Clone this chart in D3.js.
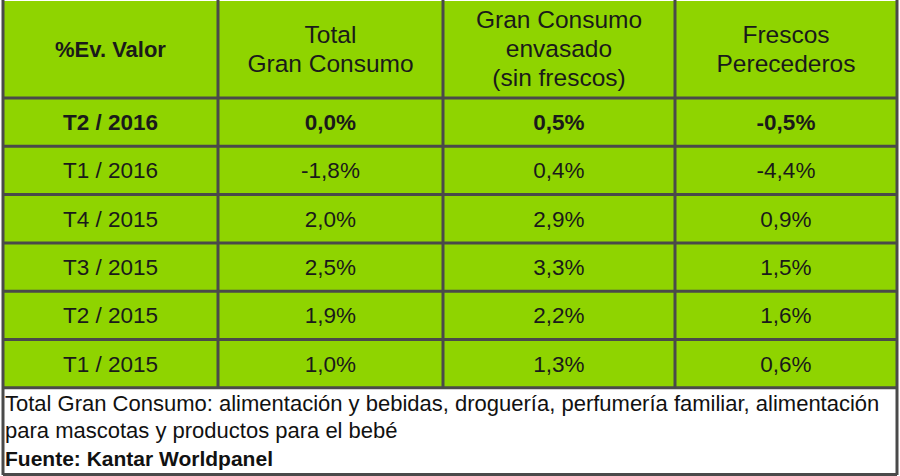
<!DOCTYPE html>
<html><head><meta charset="utf-8">
<script src="https://cdn.jsdelivr.net/npm/d3@7"></script>
<style>body{margin:0;background:#fff}</style>
</head><body><svg id="c" width="900" height="476"></svg>
<script>
const headers = [["%Ev. Valor"], ["Total", "Gran Consumo"], ["Gran Consumo", "envasado", "(sin frescos)"], ["Frescos", "Perecederos"]];
const periods = ["T2 / 2016", "T1 / 2016", "T4 / 2015", "T3 / 2015", "T2 / 2015", "T1 / 2015"];
const totalGC = ["0,0%", "-1,8%", "2,0%", "2,5%", "1,9%", "1,0%"];
const envasado = ["0,5%", "0,4%", "2,9%", "3,3%", "2,2%", "1,3%"];
const frescos = ["-0,5%", "-4,4%", "0,9%", "1,5%", "1,6%", "0,6%"];
const notes = ["Total Gran Consumo: alimentación y bebidas, droguería, perfumería familiar, alimentación", "para mascotas y productos para el bebé"];
const source = "Fuente: Kantar Worldpanel";

const svg = d3.select("#c");
const font = "Arial, 'Liberation Sans', sans-serif";
const green = "#8fd400", line = "#4a4a4a";
const colEdges = [3, 218, 443, 675, 897];
const headH = 98, rowH = 48.3, tableB = headH + rowH * periods.length;
const y = d3.scaleLinear().domain([0, periods.length]).range([headH, tableB]);

svg.append("rect").attr("x", 3).attr("y", 1).attr("width", 894).attr("height", tableB - 1).attr("fill", green);

// header
headers.forEach((h, i) => {
  const cx = (colEdges[i] + colEdges[i + 1]) / 2;
  const t = svg.append("text").attr("x", cx).attr("text-anchor", "middle")
    .attr("font-family", font).attr("font-size", i === 0 ? 22 : 24.5).attr("fill", "#1a1a1a")
    .attr("font-weight", i === 0 ? "bold" : "normal");
  const lh = 29, y0 = headH / 2 - (h.length - 1) * lh / 2 + 8;
  h.forEach((s, k) => t.append("tspan").attr("x", cx).attr("y", y0 + k * lh).text(s));
});

// rows
const cols = [periods, totalGC, envasado, frescos];
periods.forEach((p, r) => {
  cols.forEach((col, i) => {
    svg.append("text").attr("x", (colEdges[i] + colEdges[i + 1]) / 2).attr("y", y(r + 0.5) + 8)
      .attr("text-anchor", "middle").attr("font-family", font).attr("font-size", 22.5)
      .attr("fill", "#1a1a1a").attr("font-weight", r === 0 ? "bold" : "normal").text(col[r]);
  });
});

// grid lines
d3.range(periods.length + 1).forEach(r => {
  svg.append("line").attr("x1", 3).attr("x2", 897).attr("y1", y(r)).attr("y2", y(r))
    .attr("stroke", line).attr("stroke-width", 3);
});
colEdges.forEach((x, i) => {
  svg.append("line").attr("x1", x).attr("x2", x).attr("y1", 0).attr("y2", (i === 0 || i === 4) ? 475 : tableB)
    .attr("stroke", line).attr("stroke-width", 3);
});
svg.append("line").attr("x1", 3).attr("x2", 897).attr("y1", 474.5).attr("y2", 474.5).attr("stroke", line).attr("stroke-width", 3);

// footer
notes.forEach((n, k) => svg.append("text").attr("x", 5).attr("y", tableB + 23 + k * 27)
  .attr("font-family", font).attr("font-size", 22).attr("fill", "#111").text(n));
svg.append("text").attr("x", 5).attr("y", tableB + 78).attr("font-family", font)
  .attr("font-size", 21).attr("font-weight", "bold").attr("fill", "#111").text(source);
</script></body></html>
